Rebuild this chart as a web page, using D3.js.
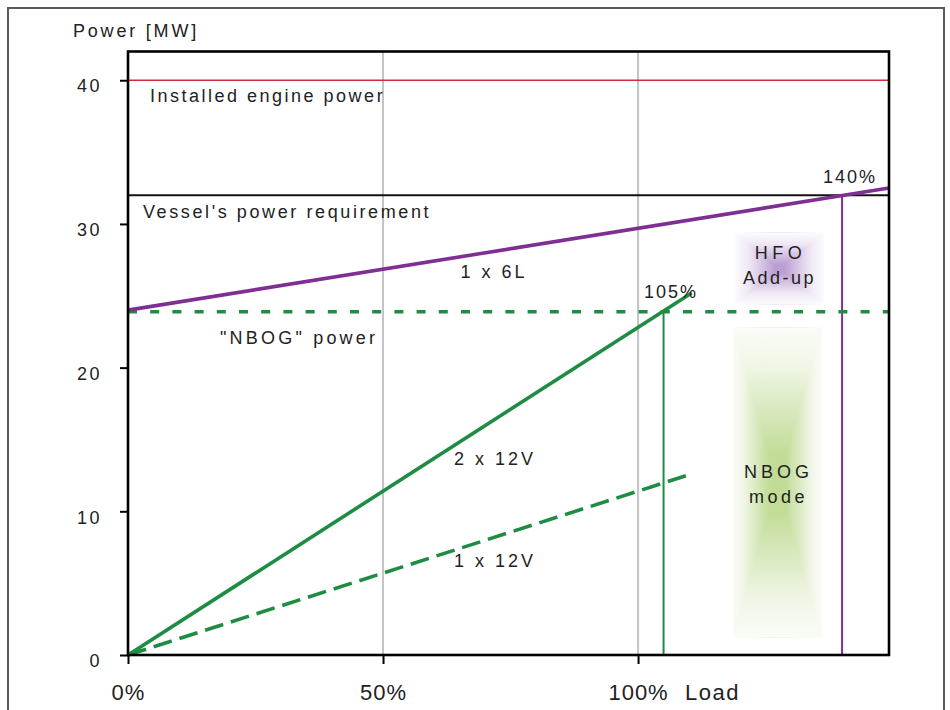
<!DOCTYPE html>
<html><head><meta charset="utf-8">
<script src="https://cdn.jsdelivr.net/npm/d3@7"></script>
<style>
html,body{margin:0;padding:0;background:#fff;}
svg text{font-family:"Liberation Sans",Arial,sans-serif;fill:#222;}
</style></head>
<body><svg id="chart" width="950" height="710"></svg>
<script>
// ---- data ----
const loadTicks = [0, 50, 100];
const loadTickLabels = ["0%", "50%", "100%"];
const powerTicks = [0, 10, 20, 30, 40];
const installedPower = 40;
const vesselRequirement = 32;
const nbogPower = 24;
const oneX6L = [[0, 24], [149.2, 32.5]];
const twoX12V = [[0, 0], [110.5, 25.2]];
const oneX12V = [[0, 0], [110.5, 12.6]];
const markerLoads = [105, 140];
const markerPowers = [24, 32];
const markerLabels = ["105%", "140%"];
const gridLoads = [50, 100];
const hfoRegion = [119, 136.5, 24.4, 29.4];
const nbogRegion = [118.6, 136.1, 1.2, 22.8];

// ---- setup ----
const svg = d3.select("#chart");
const x = d3.scaleLinear().domain([0, 149.2]).range([128, 889]);
const y = d3.scaleLinear().domain([0, 42]).range([655, 51.5]);
const green = "#1e8c42", purple = "#7f2f93", red = "#d22c3a";
const narrow = "Liberation Sans Narrow, DejaVu Sans Condensed, Arial Narrow, sans-serif";

// outer frame
svg.append("rect").attr("x", 8).attr("y", 8).attr("width", 936).attr("height", 720)
  .attr("fill", "none").attr("stroke", "#5a5a5a").attr("stroke-width", 2);

const defs = svg.append("defs");

// rectangular path gradient built from linear gradients
function rectGlow(id, r, color, edge, stops) {
  const x0 = x(r[0]), x1 = x(r[1]), yT = y(r[3]), yB = y(r[2]);
  const cx = (x0 + x1) / 2, cy = (yT + yB) / 2;
  const mk = (gid, ax, ay, bx, by) => {
    const g = defs.append("linearGradient").attr("id", gid).attr("gradientUnits", "userSpaceOnUse")
      .attr("x1", ax).attr("y1", ay).attr("x2", bx).attr("y2", by);
    stops.forEach(s => g.append("stop").attr("offset", s[0]).attr("stop-color", d3.interpolateRgb(edge, color)(s[1])));
    return "url(#" + gid + ")";
  };
  const grp = svg.append("g");
  const gl = mk(id + "L", x0, cy, cx, cy), gr = mk(id + "R", x1, cy, cx, cy);
  const gt = mk(id + "T", cx, yT, cx, cy), gb = mk(id + "B", cx, yB, cx, cy);
  grp.append("rect").attr("x", x0).attr("y", yT).attr("width", cx - x0).attr("height", yB - yT).attr("fill", gl);
  grp.append("rect").attr("x", cx).attr("y", yT).attr("width", x1 - cx).attr("height", yB - yT).attr("fill", gr);
  grp.append("polygon").attr("points", [[x0, yT], [x1, yT], [cx, cy]].join(" ")).attr("fill", gt);
  grp.append("polygon").attr("points", [[x0, yB], [x1, yB], [cx, cy]].join(" ")).attr("fill", gb);
  return [cx, cy];
}
const hfoC = rectGlow("hfo", hfoRegion, "#bb9dd1", "#fdfcfe", [[0, 0], [0.3, 0.2], [0.65, 0.65], [0.9, 1], [1, 1]]);
const nbC = rectGlow("nbog", nbogRegion, "#c0db94", "#fafcf8", [[0, 0], [0.25, 0.18], [0.55, 0.6], [0.8, 0.95], [1, 1]]);

// gridlines
svg.append("g").selectAll("line").data(gridLoads).join("line")
  .attr("x1", d => x(d)).attr("x2", d => x(d)).attr("y1", y(0)).attr("y2", y(42))
  .attr("stroke", "#c3c3c8").attr("stroke-width", 2);

// installed power
svg.append("line").attr("x1", x(0)).attr("x2", x(149.2)).attr("y1", y(installedPower)).attr("y2", y(installedPower))
  .attr("stroke", red).attr("stroke-width", 1.6);
// vessel requirement
svg.append("line").attr("x1", x(0)).attr("x2", x(149.2)).attr("y1", y(vesselRequirement)).attr("y2", y(vesselRequirement))
  .attr("stroke", "#111").attr("stroke-width", 2);

// marker verticals
const mcol = [green, purple];
svg.append("g").selectAll("line").data(markerLoads).join("line")
  .attr("x1", d => x(d)).attr("x2", d => x(d)).attr("y1", y(0)).attr("y2", (d, i) => y(markerPowers[i]))
  .attr("stroke", (d, i) => mcol[i]).attr("stroke-width", 2);

const line = d3.line().x(d => x(d[0])).y(d => y(d[1]));
// NBOG power dashed
svg.append("line").attr("x1", x(0)).attr("x2", x(149.2)).attr("y1", y(nbogPower) + 1.5).attr("y2", y(nbogPower) + 1.5)
  .attr("stroke", green).attr("stroke-width", 3.5).attr("stroke-dasharray", "9,13.2");
// 1 x 12V dashed
svg.append("path").attr("d", line(oneX12V)).attr("fill", "none").attr("stroke", green)
  .attr("stroke-width", 3.6).attr("stroke-dasharray", "19,8");
// 2 x 12V
svg.append("path").attr("d", line(twoX12V)).attr("fill", "none").attr("stroke", green).attr("stroke-width", 3.6);
// 1 x 6L
svg.append("path").attr("d", line(oneX6L)).attr("fill", "none").attr("stroke", purple).attr("stroke-width", 3.6);

// plot frame
svg.append("rect").attr("x", x(0)).attr("y", y(42)).attr("width", x(149.2) - x(0)).attr("height", y(0) - y(42))
  .attr("fill", "none").attr("stroke", "#000").attr("stroke-width", 2.6);

// axes
const yAxis = svg.append("g").attr("transform", `translate(${x(0)},0)`)
  .call(d3.axisLeft(y).tickValues(powerTicks).tickSize(8).tickPadding(18).tickFormat(d3.format("d")));
yAxis.select(".domain").remove();
yAxis.selectAll("line").attr("stroke", "#000").attr("stroke-width", 2);
yAxis.selectAll("text").attr("font-size", 18).attr("letter-spacing", 2.5).attr("dy", "0.65em").attr("fill", "#222")
  .attr("font-family", "Liberation Sans, Arial, sans-serif");

const xAxis = svg.append("g").attr("transform", `translate(0,${y(0)})`)
  .call(d3.axisBottom(x).tickValues(loadTicks).tickSize(9).tickPadding(20).tickFormat((d, i) => loadTickLabels[i]));
xAxis.select(".domain").remove();
xAxis.selectAll("line").attr("stroke", "#000").attr("stroke-width", 2);
xAxis.selectAll("text").attr("font-size", 22).attr("letter-spacing", 1)
  .attr("font-family", narrow).attr("font-stretch", "condensed").attr("fill", "#2a2a2a");

// texts
function txt(s, tx, ty, opt = {}) {
  const t = svg.append("text").attr("x", tx).attr("y", ty).text(s)
    .attr("font-size", opt.size || 18).attr("letter-spacing", opt.ls == null ? 2.5 : opt.ls)
    .attr("text-anchor", opt.anchor || "start");
  if (opt.family) t.attr("font-family", opt.family).attr("font-stretch", "condensed");
  return t;
}
txt("Power [MW]", 73, 37, {ls: 2.8});
txt("Installed engine power", 150, 102);
txt("Vessel's power requirement", 143, 218, {ls: 2.6});
txt("1 x 6L", 494, 278, {anchor: "middle", ls: 3});
txt("\"NBOG\" power", 220, 344, {ls: 3.2});
txt("2 x 12V", 495, 465, {anchor: "middle", ls: 3});
txt("1 x 12V", 495, 567, {anchor: "middle", ls: 3});
txt(markerLabels[0], 671, 298, {anchor: "middle", ls: 2});
txt(markerLabels[1], 850, 183, {anchor: "middle", ls: 2});
txt("HFO", hfoC[0] + 1, 259, {anchor: "middle", ls: 4.5});
txt("Add-up", hfoC[0], 284, {anchor: "middle", ls: 2.5});
txt("NBOG", nbC[0] + 1, 478, {anchor: "middle", ls: 4});
txt("mode", nbC[0] + 1, 503, {anchor: "middle", ls: 3.5});
txt("Load", 685, 700, {size: 22, ls: 1.5, family: narrow});
</script></body></html>
